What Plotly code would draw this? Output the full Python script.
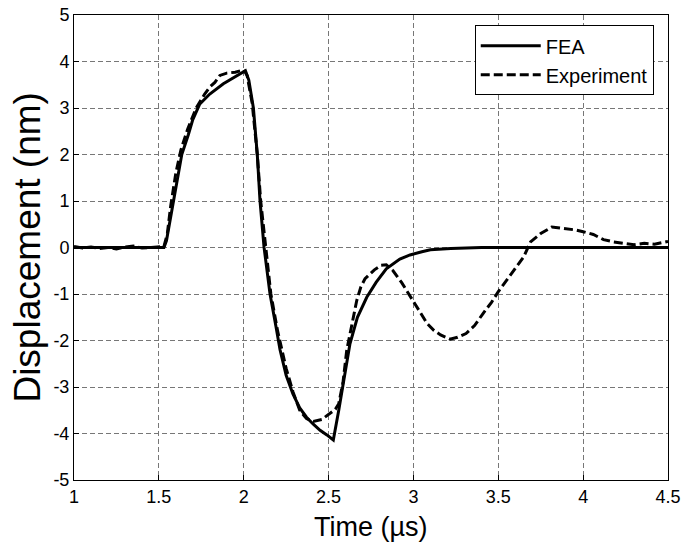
import plotly.graph_objects as go

# FEA displacement (nm) vs time (us)
fea_t = [1.0, 1.53, 1.545, 1.56, 1.585, 1.61, 1.635, 1.674, 1.70, 1.74, 1.80, 1.88, 1.96, 2.01,
         2.03, 2.057, 2.08, 2.096, 2.12, 2.155, 2.19, 2.214, 2.25, 2.29, 2.33, 2.37, 2.41, 2.45,
         2.49, 2.528, 2.56, 2.587, 2.626, 2.67, 2.725, 2.78, 2.84, 2.92, 2.98, 3.05, 3.1, 3.22,
         3.4, 3.7, 4.0, 4.5]
fea_d = [0.0, 0.0, 0.15, 0.45, 1.0, 1.5, 2.0, 2.43, 2.75, 3.08, 3.3, 3.52, 3.7, 3.8,
         3.6, 3.0, 2.0, 1.0, 0.0, -1.0, -1.7, -2.2, -2.75, -3.15, -3.45, -3.65, -3.8, -3.93,
         -4.03, -4.14, -3.5, -2.93, -2.07, -1.5, -1.07, -0.75, -0.46, -0.25, -0.16, -0.09, -0.05, -0.02,
         0.0, 0.0, 0.0, 0.0]

# Experimental displacement (nm) vs time (us)
exp_t = [1.0, 1.05, 1.1, 1.15, 1.2, 1.25, 1.3, 1.35, 1.4, 1.45, 1.5, 1.53, 1.55, 1.57, 1.6,
         1.63, 1.67, 1.72, 1.77, 1.80, 1.83, 1.86, 1.9, 1.95, 2.0, 2.02, 2.05, 2.08, 2.1, 2.13,
         2.16, 2.2, 2.25, 2.29, 2.33, 2.37, 2.41, 2.46, 2.51, 2.54, 2.56, 2.585, 2.607, 2.64,
         2.666, 2.69, 2.715, 2.77, 2.81, 2.84, 2.88, 2.93, 2.97, 3.02, 3.08, 3.12, 3.16, 3.215,
         3.26, 3.31, 3.36, 3.41, 3.46, 3.5, 3.55, 3.61, 3.65, 3.69, 3.75, 3.815, 3.86, 3.9, 3.95,
         4.0, 4.06, 4.12, 4.18, 4.24, 4.3, 4.36, 4.42, 4.5]
exp_d = [0.02, -0.01, 0.01, -0.02, 0.0, -0.03, 0.01, 0.03, -0.01, 0.0, 0.01, 0.02, 0.3, 0.9, 1.6,
         2.1, 2.55, 3.0, 3.3, 3.45, 3.55, 3.7, 3.75, 3.77, 3.82, 3.7, 3.1, 2.0, 1.0, 0.0,
         -1.0, -1.8, -2.6, -3.1, -3.5, -3.68, -3.74, -3.7, -3.57, -3.48, -3.36, -2.9, -2.21, -1.6,
         -1.14, -0.85, -0.67, -0.48, -0.38, -0.37, -0.5, -0.75, -0.99, -1.3, -1.63, -1.78, -1.88, -1.97,
         -1.93, -1.85, -1.68, -1.42, -1.18, -0.95, -0.7, -0.41, -0.2, 0.12, 0.3, 0.44, 0.42, 0.41, 0.38,
         0.34, 0.28, 0.17, 0.12, 0.09, 0.06, 0.09, 0.07, 0.13]

# Tick labels (plain hyphen minus, as in the original)
x_ticks = [1, 1.5, 2, 2.5, 3, 3.5, 4, 4.5]
x_ticklabels = ['1', '1.5', '2', '2.5', '3', '3.5', '4', '4.5']
y_ticks = [-5, -4, -3, -2, -1, 0, 1, 2, 3, 4, 5]
y_ticklabels = ['-5', '-4', '-3', '-2', '-1', '0', '1', '2', '3', '4', '5']

fig = go.Figure()

fig.add_trace(go.Scatter(
    x=fea_t, y=fea_d, mode='lines', name='FEA',
    line=dict(color='black', width=3)
))
fig.add_trace(go.Scatter(
    x=exp_t, y=exp_d, mode='lines', name='Experiment',
    line=dict(color='black', width=3, dash='9px,4px')
))

axis_common = dict(
    showline=True, linecolor='black', linewidth=1, mirror=True,
    ticks='inside', ticklen=5, tickcolor='black',
    showgrid=True, gridcolor='#777777', gridwidth=1, griddash='5px,3px',
    zeroline=False, automargin=False,
    tickfont=dict(size=18, color='black'),
)

fig.update_layout(
    width=697, height=542,
    margin=dict(l=74, r=29, t=15, b=62, autoexpand=False),
    template='none',
    paper_bgcolor='white', plot_bgcolor='white',
    font=dict(family='Liberation Sans, Arial, sans-serif', color='black'),
    xaxis=dict(range=[1, 4.5], tickmode='array', tickvals=x_ticks, ticktext=x_ticklabels,
               **axis_common),
    yaxis=dict(range=[-5, 5], tickmode='array', tickvals=y_ticks, ticktext=y_ticklabels,
               **axis_common),
    legend=dict(x=0.976, y=0.978, xanchor='right', yanchor='top',
                bgcolor='white', bordercolor='black', borderwidth=1,
                font=dict(size=20), itemwidth=60, tracegroupgap=0),
    showlegend=True,
)

# Axis titles placed as annotations to control their exact position
fig.add_annotation(text='Time (µs)', xref='paper', yref='paper', x=0.5, y=-0.101,
                   xanchor='center', yanchor='middle', showarrow=False, font=dict(size=27))
fig.add_annotation(text='Displacement (nm)', xref='paper', yref='paper', x=-0.079, y=0.5,
                   xanchor='center', yanchor='middle', textangle=-90, showarrow=False,
                   font=dict(size=37))

# drop the default page margin so the figure sits at the window's corner
fig.write_html("out.html", config={'displayModeBar': False},
               post_script="document.body.style.margin='0';")
